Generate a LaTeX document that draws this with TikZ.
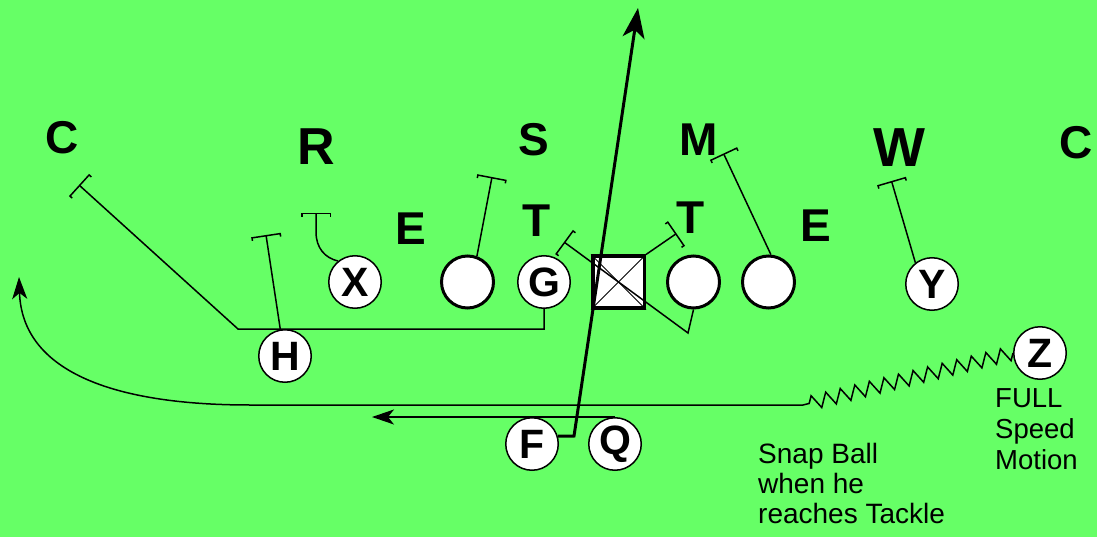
\documentclass[tikz,border=0pt]{standalone}
\usepackage{fontspec}
\setmainfont{Liberation Sans}
\usetikzlibrary{arrows.meta,decorations.pathmorphing}
\definecolor{field}{RGB}{102,255,102}
\begin{document}
\begin{tikzpicture}[x=1pt,y=-1pt,
  player/.style={circle,draw,fill=white,line width=1.5pt,minimum size=52.5pt,inner sep=0pt,
    font=\fontsize{41}{41}\selectfont\bfseries},
  lineman/.style={circle,draw,fill=white,line width=3pt,minimum size=52pt,inner sep=0pt},
  snapbox/.style={rectangle,draw,fill=white,line width=3.5pt,minimum size=51.5pt,inner sep=0pt},
  deflbl/.style={inner sep=0pt,font=\fontsize{46}{46}\selectfont\bfseries},
  note/.style={inner sep=0pt,align=left,anchor=north west},
  blk/.style={line width=1.5pt,-{Bracket[width=30pt,length=3pt]}},
  route/.style={line width=1.5pt,-{Stealth[length=22pt,width=15pt,inset=6pt]}},
  bigroute/.style={line width=3pt,-{Stealth[length=30pt,width=22pt,inset=8pt]}},
]
\fill[field] (0,0) rectangle (1097,537);
\useasboundingbox (0,0) rectangle (1097,537);

% defense
\node[deflbl] (C1) at (62,138) {C};
\node[deflbl,font=\fontsize{52}{52}\selectfont\bfseries] (R) at (316,147) {R};
\node[deflbl] (S) at (534,140) {S};
\node[deflbl] (M) at (699,140) {M};
\node[deflbl,font=\fontsize{55}{55}\selectfont\bfseries] (W) at (899,148) {W};
\node[deflbl] (C2) at (1076,143) {C};
\node[deflbl] (E1) at (411,229) {E};
\node[deflbl] (T1) at (537,221) {T};
\node[deflbl] (T2) at (691,218) {T};
\node[deflbl] (E2) at (816,226) {E};

% offense
\node[player] (X) at (355,282) {X};
\node[lineman] (LT) at (467.5,282) {};
\node[player] (G) at (544,282) {G};
\node[snapbox] (Ce) at (618.5,282) {};
\node[lineman] (RG) at (693.5,282) {};
\node[lineman] (RT) at (768.5,282) {};
\node[player] (Y) at (932,284) {Y};
\node[player] (H) at (285,356) {H};
\node[player] (Z) at (1040,353) {Z};
\node[player] (F) at (532,444) {F};
\node[player] (Q) at (615,444) {Q};

\draw[line width=1pt] (Ce.north west) -- (Ce.south east) (Ce.north east) -- (Ce.south west);

% coordinates
\coordinate (Gc) at (544,329);
\coordinate (Hc) at (238,329);
\coordinate (Cb) at (79,185);
\coordinate (Hb) at (266,235);
\coordinate (Xc) at (316,232);
\coordinate (Xb) at (316,213);
\coordinate (LTb) at (492,177);
\coordinate (RGc) at (688,333);
\coordinate (RGb) at (564,242);
\coordinate (Ceb) at (676.5,233.5);
\coordinate (RTb) at (723.5,153.5);
\coordinate (Yb) at (891.5,181);
\coordinate (Fc) at (574,436);
\coordinate (Fend) at (638,8);
\coordinate (Qend) at (372,417);
\coordinate (Zz) at (803,405);
\coordinate (Zh) at (250,405);
\coordinate (Zend) at (19,277);

% blocks
\draw[blk] (G.south) -- (Gc) -- (Hc) -- (Cb);
\draw[blk] (H.100) -- (Hb);
\draw[blk] (X.129) .. controls (325,258) and (316,248) .. (Xc) -- (Xb);
\draw[blk] (LT.70) -- (LTb);
\draw[blk] (RG.south) -- (RGc) -- (RGb);
\draw[blk] (Ce.north east) -- (Ceb);
\draw[blk] (RT.85) -- (RTb);
\draw[blk] (Y.128) -- (Yb);

% routes
\draw[bigroute] (F.17) -- (Fc) -- (Fend);
\draw[route] (Q.north) -- (Qend);
\draw[route] (Z.west) decorate[decoration={zigzag,segment length=15pt,amplitude=7pt}] {-- (Zz)}
  -- (Zh) .. controls (110,405) and (22,370) .. (Zend);

% notes
\node[note,font=\fontsize{28}{30}\selectfont] (snap) at (758,443) {Snap Ball\\when he\\reaches Tackle};
\node[note,font=\fontsize{27.5}{31}\selectfont] (full) at (995,388) {FULL\\Speed\\Motion};
\end{tikzpicture}
\end{document}
